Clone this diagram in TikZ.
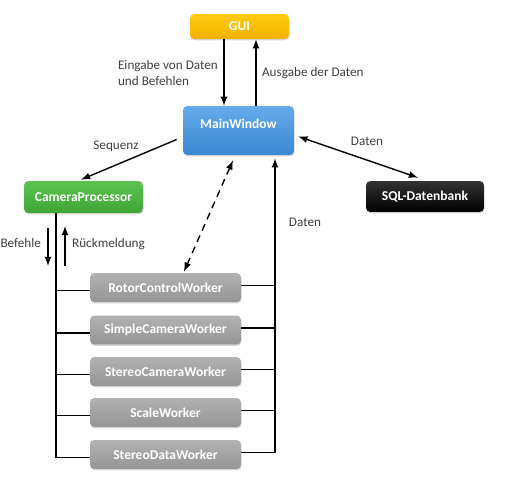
\documentclass[tikz,border=0pt]{standalone}
\usepackage{fontspec}
\setmainfont{Carlito}
\usepackage{tikz}
\usetikzlibrary{shadows}
\definecolor{txtgray}{HTML}{404040}
\definecolor{guitop}{HTML}{FFCB10}
\definecolor{guibot}{HTML}{F2B200}
\definecolor{mwtop}{HTML}{66ACEA}
\definecolor{mwbot}{HTML}{3A86D2}
\definecolor{cptop}{HTML}{5DC250}
\definecolor{cpbot}{HTML}{3EA635}
\definecolor{wktop}{HTML}{B2B2B2}
\definecolor{wkbot}{HTML}{959595}
\tikzset{
	box/.style={rectangle,rounded corners=2.5pt,draw=none,text=white,font=\fontsize{7.7}{9}\selectfont\bfseries,
		drop shadow={shadow xshift=0.3pt,shadow yshift=-0.8pt,opacity=0.35},align=center},
	guibox/.style={box,top color=guitop,bottom color=guibot,minimum width=1.98cm,minimum height=0.5cm},
	mainbox/.style={box,top color=mwtop,bottom color=mwbot,minimum width=2.22cm,minimum height=0.98cm,text depth=0.25cm},
	procbox/.style={box,top color=cptop,bottom color=cpbot,minimum width=2.38cm,minimum height=0.64cm},
	dbbox/.style={box,top color=black!80,bottom color=black,minimum width=2.36cm,minimum height=0.62cm},
	workbox/.style={box,top color=wktop,bottom color=wkbot,minimum width=3.02cm,minimum height=0.58cm},
	lbl/.style={text=txtgray,font=\fontsize{7.5}{9}\selectfont,align=left,inner sep=1pt},
	arr/.style={thick,-latex}
}
\begin{document}
\begin{tikzpicture}[x=0.02cm,y=-0.02cm]
	\useasboundingbox (0,0) rectangle (515,480);
	\path (239.5,26.5) node(gui)[guibox]{GUI}
	(238.5,130.5) node(mw)[mainbox]{MainWindow}
	(83.5,197) node(cp)[procbox]{CameraProcessor}
	(425,196.5) node(sql)[dbbox]{SQL-Datenbank}
	(165.5,287.5) node(w1)[workbox]{RotorControlWorker}
	(165.5,330) node(w2)[workbox]{SimpleCameraWorker}
	(165.5,371.5) node(w3)[workbox]{StereoCameraWorker}
	(165.5,412.5) node(w4)[workbox]{ScaleWorker}
	(165.5,454.5) node(w5)[workbox]{StereoDataWorker};
	% Spalten fuer die senkrechten Linien
	\coordinate (cIn) at (224,0);
	\coordinate (cOut) at (256,0);
	\coordinate (cDat) at (275,0);
	\coordinate (cBus) at (56,0);
	\coordinate (bf1) at (48,228);
	\coordinate (bf2) at (48,266);
	\coordinate (rm1) at (65,266);
	\coordinate (rm2) at (65,226);
	% GUI <-> MainWindow
	\draw[arr](gui.south -| cIn)--(mw.north -| cIn);
	\draw[arr](mw.north -| cOut)--(gui.south -| cOut);
	\path (220,73) node[lbl,anchor=east]{Eingabe von Daten\\und Befehlen};
	\path (260,73) node[lbl,anchor=west]{Ausgabe der Daten};
	% MainWindow -> CameraProcessor, SQL
	\draw[arr]([xshift=-0.12cm,yshift=-0.18cm]mw.west)--([xshift=-0.05cm,yshift=0.02cm]cp.north);
	\path (116,146) node[lbl]{Sequenz};
	\draw[thick,latex-latex]([xshift=0.08cm,yshift=-0.12cm]mw.east)--([xshift=-0.14cm,yshift=0.06cm]sql.north);
	\path (367,141) node[lbl]{Daten};
	\draw[thick,dash pattern=on 4pt off 3pt,latex-latex]([xshift=-0.11cm,yshift=-0.1cm]mw.south)--([xshift=0.37cm,yshift=0.02cm]w1.north);
	% Daten von den Workern
	\draw[arr]([yshift=0.04cm]w5.east)-|([yshift=-0.06cm]mw.south -| cDat);
	\foreach \w in {w1,w2,w3,w4}
		\draw[thick]([yshift=0.04cm]\w.east)--([yshift=0.04cm]\w.east -| cDat);
	\path (305,222) node[lbl]{Daten};
	% Bus vom CameraProcessor
	\draw[thick](cp.south -| cBus)|-([yshift=-0.06cm]w5.west);
	\foreach \w in {w1,w2,w3,w4}
		\draw[thick]([yshift=-0.06cm]\w.west -| cBus)--([yshift=-0.06cm]\w.west);
	\draw[arr](bf1)--(bf2);
	\draw[arr](rm1)--(rm2);
	\path (43,243) node[lbl,anchor=east]{Befehle};
	\path (70,244) node[lbl,anchor=west]{Rückmeldung};
\end{tikzpicture}
\end{document}
